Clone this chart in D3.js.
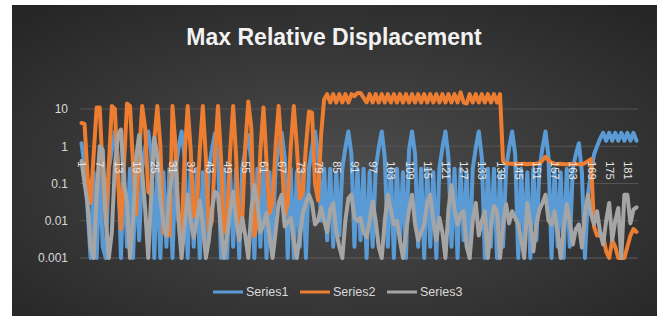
<!DOCTYPE html>
<html>
<head>
<meta charset="utf-8">
<script src="https://cdn.jsdelivr.net/npm/d3@7"></script>
<style>
  html, body { margin: 0; padding: 0; background: #ffffff; }
  svg { display: block; }
</style>
</head>
<body>
<svg id="chart" width="660" height="318"></svg>
<script>
const width = 660;
const height = 318;

// category labels 1..184, every 6th shown on the axis
const categories = d3.range(1, 185);
const yTicks = [0.001, 0.01, 0.1, 1, 10];
const seriesNames = ['Series1', 'Series2', 'Series3'];

const series1 = [
    1.2, 0.3, 0.02, 0.001, 0.2, 0.001, 0.25, 0.002, 0.001, 0.25,
    0.8, 2.5, 0.5, 0.001, 0.25, 0.002, 0.25, 0.001, 0.2, 0.003,
    0.25, 0.9, 2.5, 0.6, 0.001, 0.25, 0.001, 0.2, 0.002, 0.25,
    0.001, 0.25, 0.9, 2.5, 0.5, 0.001, 0.25, 0.002, 0.25, 0.001,
    0.2, 0.003, 0.25, 0.8, 2.2, 0.5, 0.001, 0.25, 0.001, 0.2,
    0.002, 0.25, 0.001, 0.25, 0.8, 2.0, 0.4, 0.001, 0.25, 0.002,
    0.25, 0.001, 0.2, 0.003, 0.25, 0.9, 2.3, 0.5, 0.001, 0.25,
    0.001, 0.2, 0.002, 0.25, 0.001, 0.25, 0.9, 2.5, 0.6, 0.01,
    0.25, 0.003, 0.25, 0.002, 0.2, 0.004, 0.25, 0.9, 2.5, 0.6,
    0.002, 0.25, 0.003, 0.25, 0.001, 0.2, 0.002, 0.25, 0.9, 2.5,
    0.5, 0.002, 0.25, 0.001, 0.25, 0.003, 0.2, 0.001, 0.8, 2.5,
    0.6, 0.002, 0.25, 0.001, 0.25, 0.002, 0.2, 0.001, 0.25, 0.9,
    2.5, 0.5, 0.002, 0.25, 0.001, 0.25, 0.003, 0.2, 0.001, 0.25,
    0.9, 2.5, 0.5, 0.001, 0.25, 0.002, 0.25, 0.001, 0.2, 0.002,
    0.25, 0.9, 2.5, 0.6, 0.001, 0.25, 0.002, 0.2, 0.001, 0.25,
    0.003, 0.25, 0.9, 2.5, 0.5, 0.001, 0.25, 0.002, 0.2, 0.001,
    0.25, 0.002, 0.25, 0.6, 1.2, 0.2, 0.001, 0.05, 0.2, 0.6,
    1.0, 1.6, 2.3, 1.4, 2.3, 1.4, 2.3, 1.4, 2.3, 1.4,
    2.3, 1.4, 2.3, 1.4
];

const series2 = [
    4.2, 4.0, 0.15, 0.03, 0.6, 11, 11, 0.2, 0.01, 0.3,
    12, 10, 0.15, 0.006, 0.3, 14, 12, 0.3, 0.015, 0.6,
    12, 3, 0.06, 0.05, 1.5, 12, 1, 0.005, 0.004, 0.004,
    12, 1, 0.01, 0.005, 0.5, 12, 0.8, 0.013, 0.02, 0.8,
    12, 0.5, 0.005, 0.01, 0.6, 12, 0.5, 0.005, 0.008, 0.7,
    12, 0.5, 0.005, 0.01, 1, 16, 3, 0.004, 0.01, 0.8,
    11, 0.4, 0.016, 0.03, 1, 12, 0.6, 0.013, 0.03, 1,
    12, 1, 0.04, 0.06, 1, 8.5, 8, 0.1, 0.035, 2,
    18, 25, 15, 25, 15, 25, 15, 25, 15, 25,
    22, 27, 27, 20, 15, 25, 15, 25, 15, 25,
    15, 25, 15, 25, 15, 25, 15, 25, 15, 25,
    15, 25, 15, 25, 15, 25, 15, 25, 15, 25,
    15, 25, 15, 25, 15, 28, 15, 14, 25, 15,
    25, 15, 25, 15, 25, 15, 25, 15, 25, 0.4,
    0.35, 0.34, 0.34, 0.33, 0.34, 0.33, 0.34, 0.33, 0.34, 0.33,
    0.34, 0.35, 0.42, 0.52, 0.42, 0.36, 0.34, 0.33, 0.34, 0.33,
    0.33, 0.33, 0.34, 0.33, 0.33, 0.33, 0.35, 0.4, 0.45, 0.007,
    0.004, 0.004, 0.004, 0.0015, 0.001, 0.003, 0.002, 0.001, 0.001, 0.001,
    0.002, 0.004, 0.006, 0.005
];

const series3 = [
    0.4, 0.1, 0.03, 0.002, 0.001, 0.05, 1.0, 0.8, 0.01, 0.001,
    0.005, 0.3, 2.0, 2.8, 0.1, 0.03, 0.001, 0.01, 0.5, 2.0,
    0.2, 0.02, 0.001, 0.05, 1.7, 0.6, 0.04, 0.008, 0.004, 0.05,
    0.2, 0.4, 0.01, 0.001, 0.008, 0.05, 0.01, 0.0035, 0.01, 0.035,
    0.008, 0.001, 0.003, 0.02, 0.06, 0.05, 0.006, 0.001, 0.004, 0.02,
    0.06, 0.01, 0.003, 0.012, 0.004, 0.001, 0.02, 0.09, 0.03, 0.005,
    0.008, 0.016, 0.004, 0.001, 0.005, 0.03, 0.05, 0.007, 0.009, 0.012,
    0.003, 0.001, 0.004, 0.016, 0.03, 0.05, 0.03, 0.008, 0.01, 0.023,
    0.01, 0.005, 0.02, 0.03, 0.005, 0.002, 0.001, 0.01, 0.04, 0.05,
    0.012, 0.01, 0.012, 0.005, 0.0036, 0.01, 0.033, 0.01, 0.002, 0.001,
    0.01, 0.05, 0.02, 0.008, 0.01, 0.003, 0.001, 0.005, 0.02, 0.05,
    0.008, 0.003, 0.005, 0.008, 0.03, 0.05, 0.01, 0.003, 0.012, 0.005,
    0.001, 0.02, 0.09, 0.02, 0.008, 0.015, 0.018, 0.002, 0.001, 0.01,
    0.03, 0.004, 0.01, 0.018, 0.001, 0.008, 0.025, 0.018, 0.001, 0.008,
    0.028, 0.0085, 0.018, 0.012, 0.008, 0.003, 0.001, 0.03, 0.008, 0.0015,
    0.008, 0.02, 0.03, 0.05, 0.01, 0.008, 0.018, 0.005, 0.001, 0.006,
    0.028, 0.01, 0.0023, 0.006, 0.008, 0.0019, 0.015, 0.05, 0.015, 0.008,
    0.018, 0.005, 0.0023, 0.01, 0.03, 0.003, 0.01, 0.022, 0.001, 0.05,
    0.05, 0.0085, 0.02, 0.023
];

const colors = ['#5b9bd5', '#ed7d31', '#a5a5a5'];
const allSeries = [series1, series2, series3];

const svg = d3.select('#chart');

// background panel with radial gradient
const defs = svg.append('defs');
const grad = defs.append('radialGradient')
    .attr('id', 'bg')
    .attr('cx', '50%').attr('cy', '55%').attr('r', '70%');
grad.append('stop').attr('offset', '0%').attr('stop-color', '#4e4e4e');
grad.append('stop').attr('offset', '100%').attr('stop-color', '#262626');

svg.append('rect')
    .attr('x', 12).attr('y', 5)
    .attr('width', 645).attr('height', 311)
    .attr('fill', 'url(#bg)');

svg.append('text')
    .attr('x', 334).attr('y', 45)
    .attr('text-anchor', 'middle')
    .attr('fill', '#f2f2f2')
    .style('font-family', 'Liberation Sans, Arial, sans-serif')
    .style('font-weight', 'bold')
    .style('font-size', '23px')
    .text('Max Relative Displacement');

const plotLeft = 80, plotRight = 638;

const x = d3.scalePoint()
    .domain(categories)
    .range([plotLeft, plotRight])
    .padding(0.5);

const y = d3.scaleLog()
    .domain([0.001, 10])
    .range([258, 109]);

// gridlines
svg.append('g')
    .selectAll('line')
    .data(yTicks)
    .enter()
    .append('line')
    .attr('x1', plotLeft).attr('x2', plotRight)
    .attr('y1', d => y(d)).attr('y2', d => y(d))
    .attr('stroke', d => d === 0.001 ? '#5e5e5e' : '#545454')
    .attr('stroke-width', 1);

// y axis labels
const yAxis = svg.append('g')
    .attr('transform', 'translate(' + plotLeft + ',0)')
    .call(d3.axisLeft(y).tickValues(yTicks).tickSize(0).tickPadding(12)
        .tickFormat(d => String(d)));
yAxis.select('.domain').remove();
yAxis.selectAll('text')
    .attr('fill', '#d9d9d9')
    .style('font-family', 'Liberation Sans, Arial, sans-serif')
    .style('font-size', '12px');

const line = d3.line()
    .x((d, i) => x(categories[i]))
    .y(d => y(d));

svg.append('g')
    .selectAll('path')
    .data(allSeries)
    .enter()
    .append('path')
    .attr('d', d => line(d))
    .attr('fill', 'none')
    .attr('stroke', (d, i) => colors[i])
    .attr('stroke-width', 4)
    .attr('stroke-linejoin', 'round')
    .attr('stroke-linecap', 'round');

// category axis crosses at 1, labels drawn over the lines
const xAxis = svg.append('g')
    .attr('transform', 'translate(0,' + y(1) + ')')
    .call(d3.axisBottom(x).tickValues(categories.filter(c => (c - 1) % 6 === 0)).tickSize(0));
xAxis.select('.domain').remove();
xAxis.selectAll('text')
    .attr('y', 0)
    .attr('x', 15)
    .attr('dy', '0.35em')
    .attr('transform', 'rotate(90)')
    .style('text-anchor', 'start')
    .attr('fill', '#e6e6e6')
    .style('font-family', 'Liberation Sans, Arial, sans-serif')
    .style('font-size', '11px');

// legend
const legendX = [213, 300, 387];
const legend = svg.append('g')
    .selectAll('g')
    .data(seriesNames)
    .enter()
    .append('g')
    .attr('transform', (d, i) => 'translate(' + legendX[i] + ',292)');

legend.append('line')
    .attr('x1', 0).attr('x2', 30)
    .attr('stroke', (d, i) => colors[i])
    .attr('stroke-width', 3);

legend.append('text')
    .attr('x', 33).attr('dy', '0.35em')
    .attr('fill', '#d9d9d9')
    .style('font-family', 'Liberation Sans, Arial, sans-serif')
    .style('font-size', '12.5px')
    .text(d => d);
</script>
</body>
</html>
